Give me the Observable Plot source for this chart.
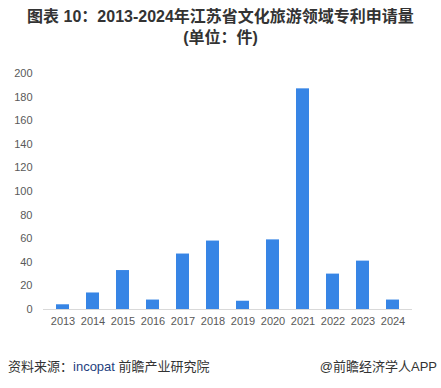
<!DOCTYPE html>
<html>
<head>
<meta charset="utf-8">
<script src="https://cdn.jsdelivr.net/npm/d3@7"></script>
<script src="https://cdn.jsdelivr.net/npm/@observablehq/plot@0.6"></script>
<style>
  html, body { margin: 0; padding: 0; background: #fff; }
  #wrap { width: 441px; height: 388px; position: relative; overflow: hidden; font-family: "Liberation Sans", "Noto Sans CJK SC", sans-serif; }
  #title { padding-top: 6px; text-align: center; font-family: "Liberation Sans", "Noto Sans CJK SC", sans-serif; font-weight: bold; font-size: 16px; line-height: 21px; color: #333; height: 42px; }
  #chart svg { display: block; }
  #footer { position: absolute; left: 0; right: 0; top: 358px; height: 18px; font-size: 13px; line-height: 18px; color: #333; font-family: "Liberation Sans", "Noto Sans CJK SC", sans-serif; }
  #footer .l { position: absolute; left: 8px; }
  #footer .r { position: absolute; right: 4px; }
  #footer .blue { color: #1f3f80; }
</style>
</head>
<body>
<div id="wrap">
  <div id="title">图表 10：2013-2024年江苏省文化旅游领域专利申请量<br>(单位：件)</div>
  <div id="chart"></div>
  <div id="footer"><span class="l">资料来源：<span class="blue">incopat</span> 前瞻产业研究院</span><span class="r">@前瞻经济学人APP</span></div>
</div>
<script>
const years = ["2013","2014","2015","2016","2017","2018","2019","2020","2021","2022","2023","2024"];
const patents = [4, 14, 33, 8, 47, 58, 7, 59, 187, 30, 41, 8];
const yTicks = [0, 20, 40, 60, 80, 100, 120, 140, 160, 180, 200];

const data = years.map((y, i) => ({year: y, value: patents[i]}));

const chart = Plot.plot({
  width: 441,
  height: 290,
  marginLeft: 43,
  marginRight: 29,
  marginTop: 25,
  marginBottom: 29,
  style: {fontSize: "11px", fontFamily: "Liberation Sans, sans-serif", color: "#595959", background: "#fff"},
  x: {domain: years, paddingInner: 0.55, paddingOuter: 0.275, label: null, tickSize: 0, tickPadding: 8},
  y: {domain: [0, 200], ticks: yTicks, label: null, tickSize: 0, tickPadding: 11},
  marks: [
    Plot.barY(data, {x: "year", y: "value", fill: "#3785e5"}),
    Plot.ruleY([0], {stroke: "#d9d9d9", strokeWidth: 1})
  ]
});
document.getElementById("chart").appendChild(chart);
</script>
</body>
</html>
